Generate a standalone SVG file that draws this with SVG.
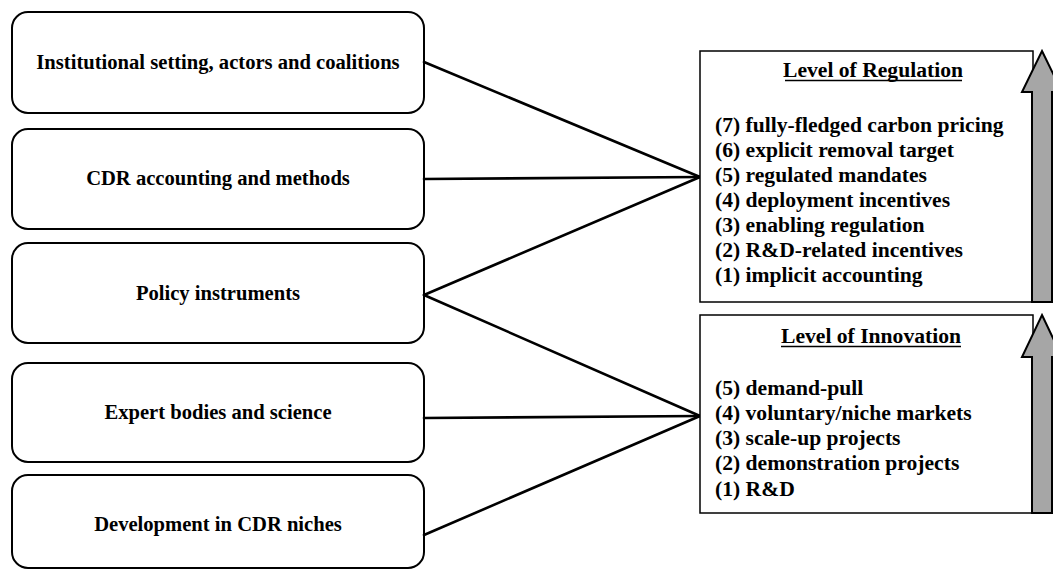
<svg xmlns="http://www.w3.org/2000/svg" width="1053" height="570" viewBox="0 0 1053 570">
  <style>
    .node rect { fill: #ffffff; stroke: #000000; stroke-width: 2; }
    .node text { font-family: "Liberation Serif", "Times New Roman", serif; font-weight: bold; font-size: 20.6px; fill: #000000; text-anchor: middle; }
    .panel rect { fill: #ffffff; stroke: #000000; stroke-width: 1.5; }
    .panel text { font-family: "Liberation Serif", "Times New Roman", serif; font-weight: bold; font-size: 21.6px; fill: #000000; }
    .panel .title { text-anchor: middle; }
    .panel .rule { stroke: #000000; stroke-width: 1.5; }
    .arrow { fill: #a6a6a6; stroke: #000000; stroke-width: 2; stroke-linejoin: miter; }
    #connectors line { stroke: #000000; stroke-width: 2.6; stroke-linecap: round; }
  </style>

  <!-- Factor boxes on the left -->
  <g id="node-institutional" class="node">
    <rect x="12" y="12" width="412" height="101" rx="16" ry="16"/>
    <text x="218" y="69">Institutional setting, actors and coalitions</text>
  </g>
  <g id="node-accounting" class="node">
    <rect x="12" y="129" width="412" height="100" rx="16" ry="16"/>
    <text x="218" y="185">CDR accounting and methods</text>
  </g>
  <g id="node-policy" class="node">
    <rect x="12" y="243" width="412" height="100" rx="16" ry="16"/>
    <text x="218" y="300">Policy instruments</text>
  </g>
  <g id="node-expert" class="node">
    <rect x="12" y="363" width="412" height="99" rx="16" ry="16"/>
    <text x="218" y="419">Expert bodies and science</text>
  </g>
  <g id="node-niches" class="node">
    <rect x="12" y="475" width="412" height="93" rx="16" ry="16"/>
    <text x="218" y="531">Development in CDR niches</text>
  </g>

  <!-- Connectors fanning into the two level panels -->
  <g id="connectors">
    <line x1="424" y1="62" x2="700" y2="177"/>
    <line x1="424" y1="179" x2="700" y2="177"/>
    <line x1="424" y1="295" x2="700" y2="177"/>
    <line x1="424" y1="295" x2="700" y2="416"/>
    <line x1="424" y1="418" x2="700" y2="416"/>
    <line x1="424" y1="535" x2="700" y2="416"/>
  </g>

  <!-- Level of Regulation panel -->
  <g id="node-regulation" class="panel">
    <rect x="700" y="51" width="333" height="251"/>
    <text class="title" x="873" y="77">Level of Regulation</text>
    <line class="rule" x1="785" y1="80.5" x2="962" y2="80.5"/>
    <text x="715" y="132">(7) fully-fledged carbon pricing</text>
    <text x="715" y="157">(6) explicit removal target</text>
    <text x="715" y="182">(5) regulated mandates</text>
    <text x="715" y="207">(4) deployment incentives</text>
    <text x="715" y="232">(3) enabling regulation</text>
    <text x="715" y="257">(2) R&amp;D-related incentives</text>
    <text x="715" y="282">(1) implicit accounting</text>
    <path class="arrow" d="M1042 51 L1062 92 L1052 92 L1052 302 L1032 302 L1032 92 L1022 92 Z"/>
  </g>

  <!-- Level of Innovation panel -->
  <g id="node-innovation" class="panel">
    <rect x="700" y="315" width="333" height="198"/>
    <text class="title" x="871" y="343">Level of Innovation</text>
    <line class="rule" x1="781" y1="346.5" x2="961" y2="346.5"/>
    <text x="715" y="395">(5) demand-pull</text>
    <text x="715" y="420">(4) voluntary/niche markets</text>
    <text x="715" y="445">(3) scale-up projects</text>
    <text x="715" y="470">(2) demonstration projects</text>
    <text x="715" y="496">(1) R&amp;D</text>
    <path class="arrow" d="M1042 315 L1062 357 L1052 357 L1052 513 L1032 513 L1032 357 L1022 357 Z"/>
  </g>
</svg>
